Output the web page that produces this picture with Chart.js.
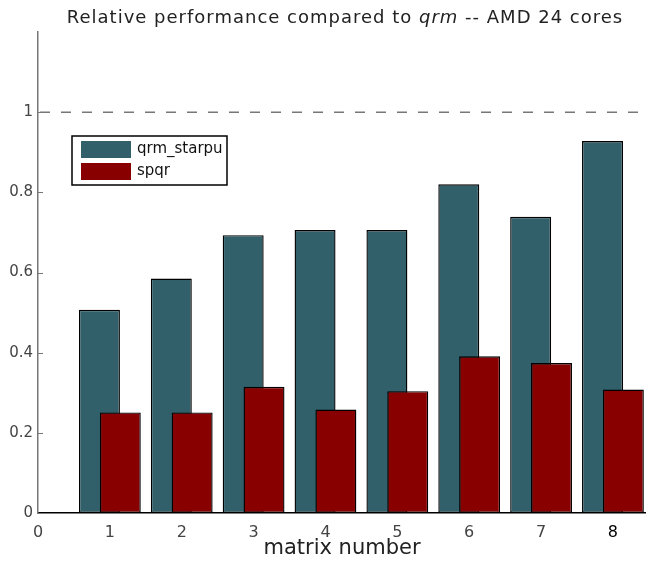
<!DOCTYPE html>
<html>
<head>
<meta charset="utf-8">
<script src="https://cdn.jsdelivr.net/npm/chart.js@4.4.1/dist/chart.umd.min.js"></script>
<style>
  html, body { margin: 0; padding: 0; background: #fff; }
  #wrap { width: 646px; height: 561px; }
</style>
</head>
<body>
<div id="wrap"><canvas id="perfChart"></canvas></div>
<script>
// data
const matrixNumbers = [1, 2, 3, 4, 5, 6, 7, 8];
const qrmStarpu = [0.507, 0.585, 0.693, 0.706, 0.706, 0.820, 0.739, 0.928];
const spqr = [0.251, 0.251, 0.315, 0.258, 0.304, 0.391, 0.374, 0.308];
const yTickLabels = ["0", "0.2", "0.4", "0.6", "0.8", "1"];
const seriesNames = ["qrm_starpu", "spqr"];
const seriesColors = ["#31606b", "#880000"];
const referenceLevel = 1;

const FONT = "'DejaVu Sans', sans-serif";
const XMAX = 8.46;
const SHIFT = 0.145; // the two bars of a matrix overlap, offset each side

// title with italic "qrm"
const titlePlugin = {
    id: "titlePlugin",
    afterDraw(chart) {
        const c = chart.ctx;
        const parts = [
            ["Relative performance compared to ", "normal"],
            ["qrm", "italic"],
            [" -- AMD 24 cores", "normal"]
        ];
        c.save();
        c.letterSpacing = "1px";
        let total = 0;
        parts.forEach(p => {
            c.font = p[1] + " 18px " + FONT;
            total += c.measureText(p[0]).width;
        });
        let x = 345 - total / 2;
        c.fillStyle = "#222";
        c.textBaseline = "alphabetic";
        parts.forEach(p => {
            c.font = p[1] + " 18px " + FONT;
            c.fillText(p[0], x, 23);
            x += c.measureText(p[0]).width;
        });
        c.restore();
    }
};

// dashed line at 1, inner y tick marks, legend box
const decorPlugin = {
    id: "decorPlugin",
    afterDatasetsDraw(chart) {
        const c = chart.ctx;
        const area = chart.chartArea;
        const y = chart.scales.y;
        c.save();

        // reference line
        const ry = y.getPixelForValue(referenceLevel);
        c.strokeStyle = "#777";
        c.lineWidth = 1.5;
        c.setLineDash([10, 11]);
        c.beginPath();
        c.moveTo(area.left + 2, ry);
        c.lineTo(area.right, ry);
        c.stroke();
        c.setLineDash([]);

        // tick marks pointing inwards
        c.strokeStyle = "#777";
        c.lineWidth = 1;
        y.ticks.forEach(t => {
            if (t.value > 0 && t.value <= 1.0001) {
                const py = Math.round(y.getPixelForValue(t.value)) + 0.5;
                c.beginPath();
                c.moveTo(area.left, py);
                c.lineTo(area.left + 5, py);
                c.stroke();
            }
        });

        // legend
        const lx = area.left + 34, ly = 136;
        c.fillStyle = "#fff";
        c.fillRect(lx, ly, 155, 49);
        c.strokeStyle = "#000";
        c.lineWidth = 1.5;
        c.strokeRect(lx, ly, 155, 49);
        c.font = "15px " + FONT;
        c.textBaseline = "middle";
        seriesNames.forEach((name, i) => {
            c.fillStyle = seriesColors[i];
            c.fillRect(lx + 9, ly + 5 + i * 22, 50, 17);
            c.fillStyle = "#111";
            c.fillText(name, lx + 65, ly + 13 + i * 22);
        });
        c.restore();
    }
};

const ctx = document.getElementById("perfChart").getContext("2d");
new Chart(ctx, {
    type: "bar",
    data: {
        datasets: [
            {
                label: seriesNames[0],
                data: matrixNumbers.map((m, i) => ({ x: m - SHIFT, y: qrmStarpu[i] })),
                backgroundColor: seriesColors[0],
                borderColor: "#000",
                borderWidth: 1.4,
                borderSkipped: false,
                xAxisID: "x",
                order: 1
            },
            {
                label: seriesNames[1],
                data: matrixNumbers.map((m, i) => ({ x: m + SHIFT, y: spqr[i] })),
                backgroundColor: seriesColors[1],
                borderColor: "#000",
                borderWidth: 1.4,
                borderSkipped: false,
                xAxisID: "x2",
                order: 0
            }
        ]
    },
    options: {
        responsive: true,
        maintainAspectRatio: false,
        animation: false,
        layout: { padding: { top: 32, right: 0, left: 0, bottom: 0 } },
        datasets: { bar: { grouped: false, barPercentage: 0.57, categoryPercentage: 1 } },
        plugins: {
            legend: { display: false },
            title: { display: false },
            tooltip: { enabled: false }
        },
        scales: {
            x: {
                type: "linear",
                min: 0,
                max: XMAX,
                offset: false,
                grid: { display: false, drawTicks: false, offset: false },
                border: { color: "#000", width: 1.5 },
                ticks: {
                    stepSize: 1,
                    includeBounds: false,
                    padding: 10,
                    font: { family: FONT, size: 16 },
                    color: c => (c.tick && c.tick.value === 8 ? "#000" : "#444"),
                    callback: v => String(v)
                },
                title: {
                    display: true,
                    text: "matrix number",
                    font: { family: FONT, size: 21 },
                    color: "#222",
                    padding: { top: 0, bottom: 0 }
                },
                afterFit: s => { s.height = 48; }
            },
            x2: {
                type: "linear",
                display: false,
                min: 0,
                max: XMAX,
                offset: false,
                grid: { offset: false }
            },
            y: {
                min: 0,
                max: 1.2,
                grid: { display: false, drawTicks: false },
                border: { color: "#777", width: 1.5 },
                ticks: {
                    stepSize: 0.2,
                    padding: 5,
                    font: { family: FONT, size: 15 },
                    color: "#444",
                    callback: v => yTickLabels[Math.round(v / 0.2)] || ""
                },
                afterFit: s => { s.width = 38; }
            }
        }
    },
    plugins: [titlePlugin, decorPlugin]
});
</script>
</body>
</html>
